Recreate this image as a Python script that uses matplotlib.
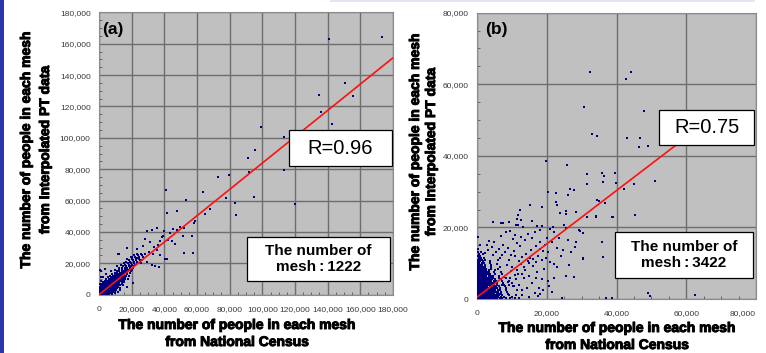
import matplotlib
matplotlib.use('Agg')
import matplotlib.pyplot as plt
from matplotlib.patches import Rectangle
from matplotlib.ticker import MultipleLocator, FuncFormatter
import matplotlib.patheffects as pe

# ---------------- data (values in thousands of people) ----------------
# Panel (a): dense core, rows of x-values at given y-levels
a_core_rows = {
    0.3: [0.2, 0.6, 1.0, 1.5, 2.0, 2.6, 3.3, 4.1, 5.0, 6.2, 7.8],
    1.0: [0.1, 0.5, 0.9, 1.4, 1.9, 2.5, 3.1, 3.8, 4.6, 5.5, 6.6, 8.0, 9.5],
    2.0: [0.2, 0.7, 1.2, 1.8, 2.4, 3.0, 3.7, 4.4, 5.2, 6.1, 7.1, 8.3, 9.8, 11.5],
    3.0: [0.3, 0.9, 1.5, 2.1, 2.8, 3.5, 4.2, 5.0, 5.8, 6.7, 7.7, 8.9, 10.4],
    4.0: [0.5, 1.2, 1.9, 2.6, 3.3, 4.0, 4.8, 5.6, 6.4, 7.3, 8.3, 9.5, 11.0, 12.8],
    5.0: [0.8, 1.6, 2.4, 3.2, 4.0, 4.8, 5.6, 6.4, 7.2, 8.1, 9.1, 10.2, 11.6],
    6.0: [1.2, 2.2, 3.1, 4.0, 4.9, 5.8, 6.6, 7.4, 8.3, 9.2, 10.2, 11.4, 13.0, 14.5],
    7.0: [0.4, 1.8, 2.9, 3.9, 4.8, 5.7, 6.6, 7.5, 8.3, 9.2, 10.1, 11.1, 12.3, 13.8],
    8.0: [2.5, 3.8, 4.9, 5.9, 6.9, 7.8, 8.7, 9.6, 10.5, 11.4, 12.5, 13.8, 15.5],
    9.0: [1.0, 3.5, 4.8, 6.0, 7.1, 8.1, 9.0, 9.9, 10.8, 11.7, 12.7, 13.9, 15.2],
    10.0: [4.5, 6.0, 7.3, 8.5, 9.5, 10.4, 11.3, 12.2, 13.2, 14.4, 15.8, 17.5],
    11.0: [2.2, 5.5, 7.2, 8.6, 9.8, 10.8, 11.7, 12.6, 13.6, 14.8, 16.2],
    12.0: [6.8, 8.5, 9.9, 11.1, 12.1, 13.0, 14.0, 15.1, 16.5, 18.2],
    13.0: [4.0, 8.0, 9.8, 11.2, 12.4, 13.5, 14.5, 15.6, 17.0],
    14.0: [9.5, 11.2, 12.6, 13.8, 14.9, 16.0, 17.4, 19.0],
    15.0: [1.0, 7.5, 10.8, 12.5, 14.0, 15.3, 16.5, 17.8, 19.5],
    16.0: [9.8, 12.3, 14.2, 15.7, 17.0, 18.4, 20.2],
    17.0: [12.0, 14.0, 15.8, 17.4, 18.9, 20.8],
    18.0: [11.0, 14.5, 16.5, 18.2, 19.8, 21.5],
    19.0: [13.5, 16.2, 18.3, 20.2, 22.0],
    20.0: [15.0, 17.5, 19.6, 21.5, 23.5],
    21.0: [16.8, 19.0, 21.2, 23.2],
    22.0: [18.5, 20.8, 22.8, 25.0],
    23.0: [17.2, 20.2, 22.5, 24.6],
    24.0: [19.8, 22.3, 24.5, 27.0],
    25.0: [21.5, 24.0, 26.5],
    26.0: [12.5, 23.0, 25.8, 28.0],
}
a_sparse_x = [173.5, 140.8, 150.8, 134.7, 155.7, 135.9, 142.4, 99.4, 113.1, 95.5,
              91.4, 92.0, 113.1, 72.9, 79.6, 95.1, 77.8, 120.0, 83.5, 83.9,
              68.2, 64.9, 63.7, 53.3, 48.0, 41.0, 41.4, 58.8, 58.4, 57.1,
              51.4, 46.5, 51.8, 57.3, 41.4,
              29.2, 32.4, 35.3, 39.8, 17.3, 11.8, 23.5, 28.4, 31.2, 33.7,
              35.3, 37.3, 34.5, 36.9, 32.2, 29.2, 26.1, 23.1, 20.0, 45.5,
              43.5, 42.4, 44.9, 48.0, 49.6, 52.2, 37.3, 38.6, 40.2, 12.9,
              16.9, 21.0, 0.6, 1.2, 3.7, 30.5, 27.0, 25.5, 33.0, 36.0, 39.0]
a_sparse_y = [164.4, 162.9, 134.7, 127.5, 126.9, 116.2, 108.5, 107.2, 100.8, 92.3,
              87.0, 78.5, 79.7, 74.8, 76.1, 62.5, 61.6, 57.8, 58.4, 51.0,
              54.8, 51.4, 65.7, 60.3, 53.3, 66.7, 52.0, 46.9, 45.6, 37.7,
              37.7, 32.2, 26.7, 26.7, 22.8,
              40.9, 41.4, 42.2, 40.9, 29.6, 26.0, 29.0, 35.4, 33.3, 30.7,
              28.6, 25.4, 18.6, 17.9, 19.0, 21.1, 22.2, 23.2, 24.3, 41.8,
              39.2, 35.0, 34.5, 41.4, 43.1, 42.2, 34.5, 36.7, 23.0, 3.0,
              5.1, 7.2, 15.8, 11.5, 16.2, 27.5, 31.0, 20.5, 26.0, 31.5, 37.5]
a_fit_x = [0, 180]
a_fit_y = [0, 151]

# Panel (b): dense core rows (triangular blob near the origin)
b_core_rows = {
    0.2: [0.1, 0.4, 0.8, 1.2, 1.6, 2.0, 2.5, 3.0, 3.5, 4.1, 4.6, 5.2, 5.8, 6.5, 7.3, 8.2, 9.4, 10.8, 12.1],
    0.6: [0.2, 0.5, 0.9, 1.3, 1.7, 2.2, 2.7, 3.2, 3.8, 4.3, 4.9, 5.5, 6.1, 6.9, 7.8, 10.1],
    1.0: [0.1, 0.4, 0.7, 1.1, 1.5, 1.9, 2.4, 2.9, 3.4, 3.9, 4.5, 5.1, 5.7, 6.4, 7.2, 9.2, 11.3],
    1.5: [0.2, 0.6, 1.0, 1.4, 1.8, 2.3, 2.8, 3.3, 3.8, 4.4, 5.0, 5.6, 6.3, 7.0, 9.0],
    2.0: [0.1, 0.5, 0.9, 1.3, 1.7, 2.1, 2.6, 3.1, 3.6, 4.2, 4.8, 5.4, 6.1, 6.8, 8.6],
    2.5: [0.3, 0.7, 1.1, 1.5, 2.0, 2.5, 3.0, 3.5, 4.0, 4.6, 5.2, 5.9, 6.6, 8.4, 11.6],
    3.0: [0.1, 0.5, 0.9, 1.3, 1.8, 2.3, 2.8, 3.3, 3.9, 4.5, 5.1, 5.8, 6.5, 8.2],
    3.5: [0.2, 0.6, 1.0, 1.5, 2.0, 2.5, 3.0, 3.6, 4.2, 4.8, 5.5, 6.2, 7.9, 10.4],
    4.0: [0.1, 0.4, 0.8, 1.2, 1.7, 2.2, 2.7, 3.2, 3.8, 4.4, 5.0, 5.7, 7.2, 9.1],
    4.5: [0.3, 0.7, 1.1, 1.6, 2.1, 2.6, 3.1, 3.7, 4.3, 5.0, 5.7, 7.4, 10.0],
    5.0: [0.1, 0.5, 0.9, 1.3, 1.8, 2.3, 2.9, 3.5, 4.1, 4.8, 5.5, 7.1, 9.2],
    5.5: [0.2, 0.6, 1.0, 1.5, 2.0, 2.5, 3.1, 3.7, 4.4, 5.1, 6.8],
    6.0: [0.1, 0.4, 0.8, 1.2, 1.7, 2.2, 2.8, 3.4, 4.0, 4.7, 6.3, 8.4],
    6.5: [0.3, 0.7, 1.1, 1.6, 2.1, 2.7, 3.3, 4.0, 4.7, 6.4],
    7.0: [0.1, 0.5, 0.9, 1.4, 1.9, 2.5, 3.1, 3.8, 5.3, 7.2],
    7.5: [0.2, 0.6, 1.1, 1.6, 2.2, 2.8, 3.5, 5.0, 6.9],
    8.0: [0.1, 0.5, 1.0, 1.5, 2.1, 2.7, 3.4, 5.1],
    8.5: [0.3, 0.8, 1.3, 1.9, 2.6, 4.1, 6.0],
    9.0: [0.1, 0.6, 1.1, 1.7, 2.4, 4.0],
    9.5: [0.3, 0.9, 1.5, 2.2, 3.9],
    10.0: [0.2, 0.7, 1.3, 2.0, 3.7],
    10.5: [0.4, 1.0, 1.8, 3.6],
    11.0: [0.2, 0.8, 1.5, 2.4],
    11.5: [0.5, 1.2, 2.1],
    12.0: [0.3, 1.0],
    12.5: [0.6, 1.6],
    13.0: [0.2, 1.2],
    14.0: [0.4],
    15.0: [0.9],
    17.2: [0.2],
}
b_sparse_x = [32.5, 44.3, 42.8, 30.6, 47.8, 32.9, 34.5, 43.0, 46.7, 46.5,
              48.9, 19.7, 25.7, 31.4, 35.8, 39.6, 36.3, 50.9, 31.5, 36.2,
              39.9, 45.1, 42.1, 20.5, 22.7, 26.8, 27.9, 26.1, 34.3, 35.1,
              36.6, 15.1, 12.3, 23.9, 25.4, 31.4, 45.4, 38.6, 34.2, 11.6,
              4.6, 18.5, 25.4, 29.4, 35.9, 24.6, 36.1, 30.4, 30.4, 27.9,
              20.6, 24.3, 37.0, 38.8, 48.9, 49.6, 62.6, 28.2, 27.0, 22.0,
              22.6, 22.9, 18.6, 25.5, 28.4, 11.8, 7.5, 11.1, 15.8, 18.1,
              21.8, 22.2, 24.9, 29.2, 34.1, 39.0, 45.4,
              8.5, 9.2, 10.1, 11.0, 12.0, 10.5, 9.8, 11.5, 12.8, 13.5,
              13.0, 14.0, 14.8, 15.5, 16.2, 16.8, 17.5, 18.0, 18.8, 19.5,
              12.2, 11.4, 10.2, 9.0, 8.0, 7.2, 6.5, 7.5, 6.2, 5.5,
              5.0, 4.2, 3.5, 2.8, 6.8, 8.2, 9.5, 10.8, 12.5, 13.8,
              14.5, 15.8, 16.5, 17.2, 11.8, 12.6, 13.2, 9.2, 7.0,
              10.5, 11.2, 12.0, 12.8, 13.5, 14.2, 15.0, 15.8, 16.5, 17.2,
              17.8, 18.5, 19.2, 13.0, 14.8, 16.0, 11.8, 10.8, 9.5, 9.8,
              13.8, 14.5, 17.0, 18.5, 19.8, 20.5, 21.0, 19.0, 20.3, 17.5,
              18.2, 16.8, 12.5, 15.2, 18.0, 20.0, 20.8, 21.5, 22.0, 22.8,
              23.5, 24.0, 23.0, 22.0, 21.5, 25.5, 26.5, 26.0, 28.5, 30.4,
              5.8, 6.6, 7.8, 8.8, 6.0, 4.6, 3.2, 2.2, 8.9, 7.7]
b_sparse_y = [63.3, 63.3, 61.5, 53.7, 52.4, 46.1, 45.6, 45.1, 45.1, 42.5,
              42.7, 38.6, 37.5, 35.0, 35.3, 35.2, 34.3, 33.0, 32.2, 32.7,
              32.4, 32.2, 30.6, 29.8, 29.7, 30.8, 30.4, 29.1, 27.7, 27.5,
              26.9, 26.3, 24.8, 23.9, 23.7, 22.9, 23.5, 22.8, 23.3, 22.3,
              21.6, 20.3, 19.7, 19.1, 15.8, 13.7, 11.6, 11.4, 11.1, 6.2,
              3.6, 0.4, 0.4, 0.4, 1.6, 0.7, 1.0, 14.4, 13.0, 9.8,
              27.0, 26.4, 25.6, 24.6, 24.3, 23.4, 21.1, 20.7, 21.9, 19.3,
              20.2, 18.7, 20.6, 19.3, 23.0, 23.0, 23.4,
              9.5, 10.8, 9.0, 12.0, 10.5, 13.5, 12.2, 8.2, 7.0, 9.0,
              11.8, 12.5, 10.0, 13.8, 11.2, 14.8, 12.0, 16.0, 13.5, 15.2,
              14.8, 15.6, 16.8, 14.2, 13.0, 12.2, 11.5, 15.2, 14.0, 13.0,
              15.8, 14.5, 16.2, 15.0, 17.5, 18.8, 19.0, 18.0, 17.2, 16.5,
              18.3, 17.0, 18.8, 20.5, 20.8, 22.2, 20.0, 21.5, 21.2,
              3.5, 5.5, 4.0, 2.5, 5.8, 3.2, 6.5, 4.5, 1.8, 7.5,
              3.0, 5.5, 8.5, 1.2, 0.5, 9.2, 7.0, 6.8, 5.8, 7.8,
              8.2, 10.5, 10.2, 10.8, 11.5, 13.0, 10.2, 2.5, 5.0, 0.8,
              1.5, 6.0, 9.8, 11.5, 14.0, 17.0, 19.5, 16.0, 18.7, 14.3,
              17.0, 12.0, 9.0, 6.0, 2.0, 6.5, 9.5, 16.5, 16.0, 18.5,
              9.8, 8.9, 6.2, 4.8, 11.0, 12.3, 13.6, 12.8, 1.3, 3.9]
b_fit_x = [0, 60]
b_fit_y = [0.5, 45.2]

ticks_a = [0, 20000, 40000, 60000, 80000, 100000, 120000, 140000, 160000, 180000]
ticks_b = [0, 20000, 40000, 60000, 80000]


def expand(rows):
    xs, ys = [], []
    for yv, xl in rows.items():
        for xv in xl:
            xs.append(xv * 1000)
            ys.append(yv * 1000)
    return xs, ys


W, H = 766, 353
fig = plt.figure(figsize=(W / 100, H / 100), dpi=100)
fig.patch.set_facecolor('white')

FONT = 'Liberation Sans'
MK = '#00007f'
BG = '#c0c0c0'
GRID = '#6e6e6e'


def px_axes(l, t, r, b):
    return fig.add_axes([l / W, 1 - b / H, (r - l) / W, (b - t) / H])


def style(ax, ticks, lim):
    ax.set_facecolor(BG)
    ax.set_xlim(0, lim)
    ax.set_ylim(0, lim)
    ax.set_xticks(ticks)
    ax.set_yticks(ticks)
    ax.xaxis.set_minor_locator(MultipleLocator(5000))
    ax.yaxis.set_minor_locator(MultipleLocator(5000))
    fmt = FuncFormatter(lambda v, p: f"{int(v):,}")
    ax.xaxis.set_major_formatter(fmt)
    ax.yaxis.set_major_formatter(fmt)
    ax.grid(True, which='major', color=GRID, linewidth=1.0)
    ax.set_axisbelow(True)
    ax.tick_params(which='major', length=0, labelsize=6, labelcolor='#3a3a3a')
    ax.tick_params(axis='x', which='major', pad=8)
    ax.tick_params(axis='y', which='major', pad=6)
    ax.tick_params(which='minor', direction='in', length=2.5, width=0.6, color='#555555')
    for lab in ax.get_xticklabels() + ax.get_yticklabels():
        lab.set_fontfamily(FONT)
    for s in ax.spines.values():
        s.set_color('#8c8c8c')
        s.set_linewidth(0.8)


def box(ax, l, t, r, b, text, size, weight, ls=1.0):
    inv = ax.transAxes.inverted()
    (x0, y0) = inv.transform((l, H - b))
    (x1, y1) = inv.transform((r, H - t))
    ax.add_patch(Rectangle((x0, y0), x1 - x0, y1 - y0, transform=ax.transAxes,
                           facecolor='white', edgecolor='black', linewidth=0.9,
                           zorder=5, clip_on=False))
    ax.text((x0 + x1) / 2, (y0 + y1) / 2, text, transform=ax.transAxes,
            ha='center', va='center', fontsize=size, fontweight=weight,
            family=FONT, zorder=6, linespacing=ls)


bold_fx = [pe.withStroke(linewidth=0.7, foreground='black')]
CORE_S = 4.2
SPARSE_S = 3.0

# ---------- panel (a) ----------
axa = px_axes(99, 12.3, 393, 294.7)
style(axa, ticks_a, 180000)
ax_x, ax_y = expand(a_core_rows)
axa.scatter(ax_x, ax_y, s=CORE_S, marker='s', color=MK, linewidths=0, zorder=3)
axa.scatter([v * 1000 for v in a_sparse_x], [v * 1000 for v in a_sparse_y],
            s=SPARSE_S, marker='s', color=MK, linewidths=0, zorder=3)
axa.plot([v * 1000 for v in a_fit_x], [v * 1000 for v in a_fit_y],
         color='#ff1010', linewidth=1.2, zorder=4)
axa.text(0.012, 0.94, '(a)', transform=axa.transAxes, fontsize=12.5,
         fontweight='bold', family=FONT, va='center', ha='left')
box(axa, 289, 130, 392, 166, 'R=0.96', 14.5, 'normal')
box(axa, 247, 237, 390, 281, 'The number of\nmesh\u2009:\u20091222', 11, 'bold', 1.15)

# ---------- panel (b) ----------
axb = px_axes(477, 12.7, 756, 299)
style(axb, ticks_b, 80000)
bx, by = expand(b_core_rows)
axb.scatter(bx, by, s=CORE_S, marker='s', color=MK, linewidths=0, zorder=3)
axb.scatter([v * 1000 for v in b_sparse_x], [v * 1000 for v in b_sparse_y],
            s=SPARSE_S, marker='s', color=MK, linewidths=0, zorder=3)
axb.plot([v * 1000 for v in b_fit_x], [v * 1000 for v in b_fit_y],
         color='#ff1010', linewidth=1.2, zorder=4)
axb.text(0.028, 0.94, '(b)', transform=axb.transAxes, fontsize=12.5,
         fontweight='bold', family=FONT, va='center', ha='left')
box(axb, 659, 110, 754, 145, 'R=0.75', 14.5, 'normal')
box(axb, 615, 232, 753, 278, 'The number of\nmesh\u2009:\u20093422', 11, 'bold', 1.15)
# keep the last x tick label inside the picture
xl = axb.get_xticklabels()
xl[-1].set_horizontalalignment('right')
for lab in xl:
    lab.set_fontfamily(FONT)

# ---------- axis labels ----------
def ftxt(xp, yp, s, rot=0):
    fig.text(xp / W, 1 - yp / H, s, ha='center', va='center', rotation=rot,
             fontsize=10, fontweight='bold', family=FONT, path_effects=bold_fx)

ftxt(237, 325, 'The number of people in each mesh')
ftxt(237, 342, 'from National Census')
ftxt(617, 328, 'The number of people in each mesh')
ftxt(617, 345, 'from National Census')
ftxt(26, 150, 'The number of people in each mesh', 90)
ftxt(45, 150, 'from Interpolated PT data', 90)
ftxt(415, 152, 'The number of people in each mesh', 90)
ftxt(431, 152, 'from Interpolated PT data', 90)

# ---------- decorative slide edges ----------
fig.patches.append(Rectangle((0, 0), 3.5 / W, 1, transform=fig.transFigure,
                             facecolor='#2a34b0', edgecolor='none', zorder=0))
fig.patches.append(Rectangle((330 / W, 1 - 2 / H), 425 / W, 2 / H,
                             transform=fig.transFigure, facecolor='#e4e4f8',
                             edgecolor='none', zorder=0))

fig.savefig('out.png', dpi=100, facecolor='white')
